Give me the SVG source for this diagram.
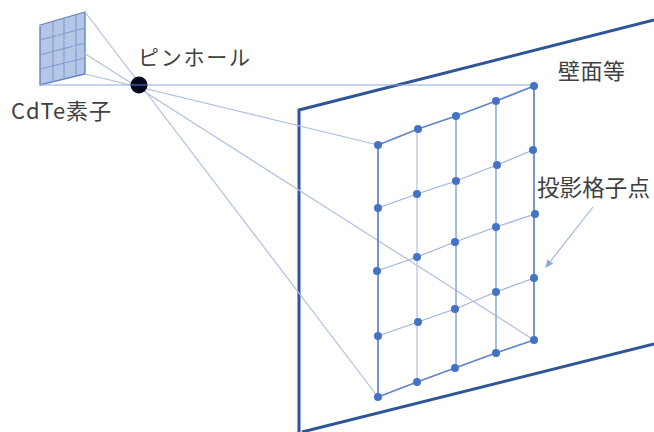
<svg xmlns="http://www.w3.org/2000/svg" width="654" height="432" viewBox="0 0 654 432">
<style>
.t{font-family:"Noto Sans CJK JP","Noto Sans",sans-serif;fill:#404040;font-weight:400}
.ray{stroke:#b0c0e2;stroke-width:1.2;fill:none}
.g1{stroke:#8ba6d8;stroke-width:1.5;fill:none}
.g2{stroke:#c3d0ea;stroke-width:1.6;fill:none}
.g3{stroke:#5f84c8;stroke-width:1.7;fill:none}
.g4{stroke:#9db3de;stroke-width:1.2;fill:none}
.wall{stroke:#2f5597;stroke-width:3;fill:none}
.s{stroke:#7f9bd0;stroke-width:1.100;fill:none}
.p{fill:#4472c4}
</style>
<defs><marker id="a" markerWidth="9" markerHeight="9" refX="7" refY="3.5" orient="auto" markerUnits="userSpaceOnUse"><path d="M0 0L8 3.5L0 7z" fill="#8fa8d8"/></marker></defs>
<rect width="654" height="432" fill="#fff"/>
<g id="wall"><path class="wall" d="M654 20L299 110V432M302 432L654 344"/></g>
<g id="sensor">
<path d="M40 25L85 12V74L40 85z" fill="#b4c7e7" stroke="#5b7fc0" stroke-width="1.300"/>
<path class="s" d="M53 21.500V82M64 18.300V79M76 15V76.500M40 40L85 28M40 55L85 43M40 69L85 58"/>
</g>
<g id="connectors">
<path class="ray" d="M85 12L378 397M85 74L378 145M40 25L534 340"/>
<path d="M40 85H534" stroke="#8fa8d8" stroke-width="1.2" fill="none"/>
<path class="g2" d="M417 129V382"/>
<path class="g1" d="M456 116V368M496 101V353"/>
<path class="g3" d="M378 145V397M534 86V340"/>
<path class="g3" d="M378 145L418 129L456 116L496 101L534 86M378 397L417 382L455 368L496 353L534 340"/>
<path class="g4" d="M378 208L417 194L456 181L497 165L533 150M377 271L417 257L455 242L496 227L535 214M378 336L418 322L455 309L496 292L534 278"/>
<path d="M593 207L546 267" stroke="#a3b7e0" stroke-width="1.2" fill="none" marker-end="url(#a)"/>
</g>
<g id="pinhole"><circle cx="139" cy="85" r="8.500" fill="#06081e"/><path d="M131 85H147" stroke="#5b7fc0" stroke-width="1"/></g>
<g id="points" class="p">
<circle cx="378" cy="145" r="4"/><circle cx="418" cy="129" r="4"/><circle cx="456" cy="116" r="4"/><circle cx="496" cy="101" r="4"/><circle cx="534" cy="86" r="4"/>
<circle cx="378" cy="208" r="4"/><circle cx="417" cy="194" r="4"/><circle cx="456" cy="181" r="4"/><circle cx="497" cy="165" r="4"/><circle cx="533" cy="150" r="4"/>
<circle cx="377" cy="271" r="4"/><circle cx="417" cy="257" r="4"/><circle cx="455" cy="242" r="4"/><circle cx="496" cy="227" r="4"/><circle cx="535" cy="214" r="4"/>
<circle cx="378" cy="336" r="4"/><circle cx="418" cy="322" r="4"/><circle cx="455" cy="309" r="4"/><circle cx="496" cy="292" r="4"/><circle cx="534" cy="278" r="4"/>
<circle cx="378" cy="397" r="4"/><circle cx="417" cy="382" r="4"/><circle cx="455" cy="368" r="4"/><circle cx="496" cy="353" r="4"/><circle cx="534" cy="340" r="4"/>
</g>
<g id="labels">
<text class="t" x="138" y="65" font-size="21" textLength="112">ピンホール</text>
<text class="t" x="11" y="119" font-size="22" textLength="100">CdTe素子</text>
<text class="t" x="558" y="79" font-size="22" textLength="67">壁面等</text>
<text class="t" x="537" y="196" font-size="22.500" textLength="113">投影格子点</text>
</g>
</svg>
